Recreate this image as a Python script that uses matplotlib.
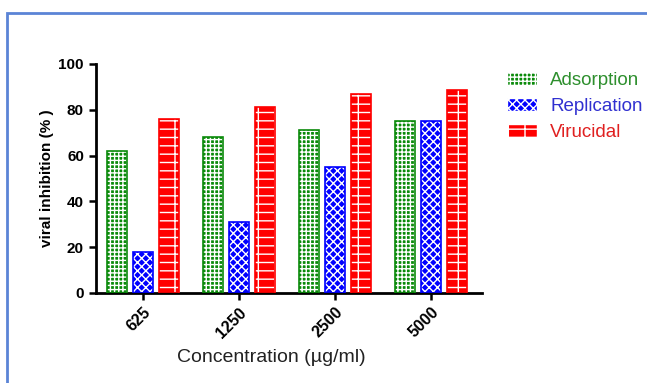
import numpy as np
import matplotlib
matplotlib.use("Agg")
import matplotlib.pyplot as plt
from matplotlib.patches import Patch, Rectangle

plt.rcParams['font.family'] = ['Liberation Sans', 'DejaVu Sans']
plt.rcParams['hatch.linewidth'] = 1.0

# datos
concentraciones = ['625', '1250', '2500', '5000']
adsorcion = [62, 68, 71, 75]
replicacion = [18, 31, 55, 75]
virucida = [76, 81, 87, 88.5]

series = ['Adsorption', 'Replication', 'Virucidal']
colores = ['#0a8a0a', '#0000ff', '#ff0000']
tramas = ['++++', 'xxxx', '-|-']

fig = plt.figure(figsize=(6.47, 3.83), dpi=100)
ax = fig.add_axes([0.148, 0.235, 0.597, 0.598])

x = np.arange(len(concentraciones))
ancho = 0.21
desp = [-0.27, 0.0, 0.27]
valores = [adsorcion, replicacion, virucida]

for i in range(3):
    # relleno con trama blanca y luego borde de color
    ax.bar(x + desp[i], valores[i], ancho, color=colores[i],
           edgecolor='white', hatch=tramas[i], linewidth=0, zorder=2)
    ax.bar(x + desp[i], valores[i], ancho, color='none',
           edgecolor=colores[i], linewidth=1.2, zorder=3)

ax.set_xlim(-0.49, 3.53)
ax.set_ylim(0, 100)
ax.set_yticks([0, 20, 40, 60, 80, 100])
ax.set_xticks(x)
ax.set_xticklabels(concentraciones, rotation=45, ha='right',
                   rotation_mode='anchor', fontsize=11.5, fontweight='bold')
for t in ax.get_yticklabels():
    t.set_fontweight('bold')
    t.set_fontsize(11)

ax.spines['top'].set_visible(False)
ax.spines['right'].set_visible(False)
ax.spines['left'].set_linewidth(2)
ax.spines['bottom'].set_linewidth(2)
ax.tick_params(axis='both', direction='out', length=5, width=1.8)

ax.set_xlabel("Concentration (\u00b5g/ml)", fontsize=14, color='#222222')
ax.xaxis.set_label_coords(0.455, -0.245)
ax.set_ylabel("viral inhibition (% )", fontsize=11, fontweight='bold', labelpad=3)

# leyenda a la derecha
manijas = [Patch(facecolor=colores[i], edgecolor='white', hatch=tramas[i])
           for i in range(3)]
leg = fig.legend(manijas, series, loc='upper left', bbox_to_anchor=(0.772, 0.832),
                 frameon=False, fontsize=13.5, handlelength=1.6, handleheight=0.75,
                 handletextpad=0.7, labelspacing=0.45, borderaxespad=0)
for txt, c in zip(leg.get_texts(), ['#2e8f2e', '#3030d0', '#e02020']):
    txt.set_color(c)

# marco azul
fig.patches.append(Rectangle((7 / 647, -0.05), 1.1, 1 - 13 / 383 + 0.05,
                             transform=fig.transFigure, fill=False,
                             edgecolor='#5b84d6', linewidth=2))

fig.savefig("out.png", dpi=100)
